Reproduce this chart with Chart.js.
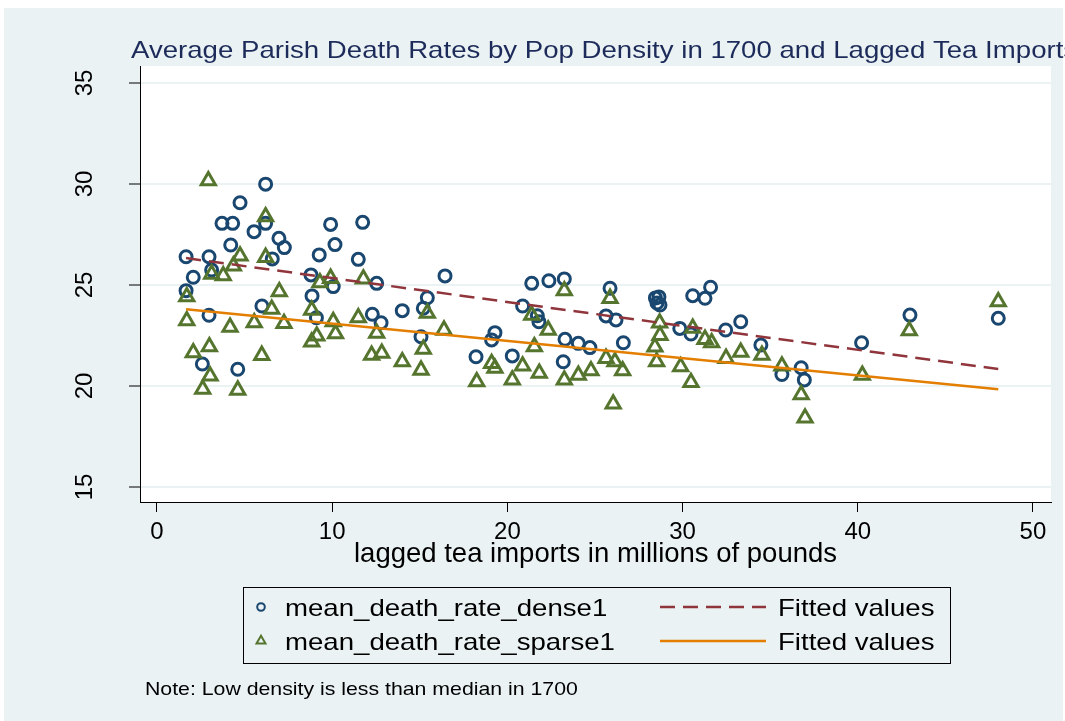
<!DOCTYPE html>
<html>
<head>
<meta charset="utf-8">
<script src="https://cdn.jsdelivr.net/npm/chart.js@4.4.0/dist/chart.umd.min.js"></script>
<style>
  html, body { margin: 0; padding: 0; background: #fff; }
  #wrap { width: 1065px; height: 721px; }
</style>
</head>
<body>
<div id="wrap"><canvas id="chart" width="1065" height="721"></canvas></div>
<script>
// values
const denseX = [1.66,1.66,2.07,2.97,2.97,2.59,3.12,3.71,4.32,4.21,4.74,4.61,5.54,6.20,5.99,6.20,6.96,7.27,6.58,8.79,
  8.85,9.26,9.91,10.16,10.06,9.10,11.49,11.74,12.54,12.29,12.79,14.00,15.07,15.43,15.20,16.44,18.21,19.10,19.29,20.28,
  20.87,21.39,21.71,21.80,22.37,23.25,23.29,23.19,24.05,24.71,25.86,25.63,26.20,26.62,28.45,28.65,28.54,28.71,29.84,30.48,
  30.58,31.28,31.60,32.46,33.32,34.47,35.67,36.77,36.95,40.22,42.98,48.02];
const denseY = [26.40,24.72,25.38,26.40,23.50,21.09,25.74,28.05,28.05,26.98,29.07,20.83,27.64,29.99,23.96,28.05,27.31,26.85,26.29,25.50,
  24.46,26.49,28.00,27.00,24.92,23.38,26.27,28.10,25.08,23.55,23.13,23.73,22.44,24.37,23.85,25.45,21.45,22.28,22.64,21.49,
  23.96,25.08,23.48,23.18,25.21,25.30,22.31,21.20,22.11,21.90,24.84,23.47,23.27,22.14,24.36,24.41,24.11,24.01,22.85,22.57,
  24.47,24.34,24.89,22.77,23.18,22.03,20.57,20.90,20.30,22.14,23.51,23.35];

const sparseX = [2.93,6.20,4.74,6.20,4.36,3.12,3.78,6.98,1.70,9.30,9.91,6.55,8.83,1.70,4.17,5.55,7.25,10.06,9.12,8.83,
  10.19,2.07,2.99,5.98,3.03,2.61,4.61,11.78,11.49,15.43,12.54,16.38,12.25,12.83,15.20,14.00,15.07,18.25,19.10,19.29,
  23.25,25.86,21.39,22.33,21.54,20.87,21.82,20.28,23.25,24.05,24.77,25.63,26.14,26.58,26.04,28.69,28.71,28.42,28.52,29.89,
  30.48,30.58,31.28,31.66,32.48,33.32,34.53,35.67,36.77,36.99,40.26,42.94,48.02];
const sparseY = [30.16,28.38,26.44,26.37,25.94,25.54,25.46,24.67,24.42,25.11,25.33,23.80,23.76,23.23,22.91,23.13,23.10,23.19,22.48,22.18,
  22.59,21.65,21.95,21.52,20.50,19.84,19.80,25.30,23.38,23.60,22.61,22.77,21.53,21.62,21.82,21.20,20.79,20.21,21.12,20.88,
  24.72,24.34,23.51,22.77,21.95,20.99,20.63,20.30,20.30,20.54,20.76,21.37,21.20,20.76,19.11,23.12,22.51,21.93,21.20,20.96,
  20.18,22.86,22.31,22.14,21.37,21.67,21.53,20.99,19.57,18.42,20.54,22.74,24.17];

// fitted lines, ends at min and max x
const fitX = [1.66, 48.02];
const fitDenseY = [26.33, 20.84];
const fitSparseY = [23.80, 19.84];

const xTicks = [0, 10, 20, 30, 40, 50];
const yTicks = [15, 20, 25, 30, 35];

const titleText = 'Average Parish Death Rates by Pop Density in 1700 and Lagged Tea Imports';
const xTitle = 'lagged tea imports in millions of pounds';
const noteText = 'Note: Low density is less than median in 1700';

const FONT = '"Liberation Sans", Arial, sans-serif';
const BG = '#eaf2f3';
const NAVY = '#1a476f', MAROON = '#90353b', GREEN = '#55752f', ORANGE = '#e37e00';

const pts = (xs, ys) => xs.map((x, i) => ({ x: x, y: ys[i] }));

// stata text looks a bit wide, stretch it
function wideText(ctx, text, x, y, size, color) {
  ctx.save();
  ctx.font = size + 'px ' + FONT;
  ctx.fillStyle = color;
  ctx.textBaseline = 'alphabetic';
  ctx.textAlign = 'left';
  ctx.translate(x, y);
  ctx.scale(1.15, 1);
  ctx.fillText(text, 0, 0);
  ctx.restore();
}

const stataLook = {
  id: 'stataLook',
  beforeDraw(chart) {
    const { ctx, chartArea: a } = chart;
    ctx.save();
    ctx.fillStyle = '#fff';
    ctx.fillRect(0, 0, chart.width, chart.height);
    ctx.fillStyle = BG;
    ctx.fillRect(4, 8, chart.width - 6, chart.height - 8);
    ctx.fillStyle = '#fff';
    ctx.fillRect(a.left, a.top, a.right - a.left, a.bottom - a.top);
    ctx.restore();
  },
  afterDraw(chart) {
    const ctx = chart.ctx;
    const ds = chart.data.datasets;
    wideText(ctx, titleText, 131, 58, 24, '#1c2b5a');

    // legend box
    ctx.save();
    ctx.strokeStyle = '#000';
    ctx.lineWidth = 1;
    ctx.strokeRect(243.5, 587.5, 707, 76);
    ctx.restore();

    const rows = [
      { mark: ds[0], line: ds[2], y: 607, r: 3.8 },
      { mark: ds[1], line: ds[3], y: 641, r: 5.2 }
    ];
    rows.forEach(row => {
      ctx.save();
      ctx.strokeStyle = row.mark.borderColor;
      ctx.fillStyle = 'rgba(0,0,0,0)';
      ctx.lineWidth = 2;
      Chart.helpers.drawPoint(ctx, { pointStyle: row.mark.pointStyle, radius: row.r, rotation: 0, borderWidth: 2 }, 261, row.y);
      ctx.restore();
      wideText(ctx, row.mark.label, 285, row.y + 9, 24, '#000');

      ctx.save();
      ctx.strokeStyle = row.line.borderColor;
      ctx.lineWidth = row.line.borderWidth;
      ctx.setLineDash(row.line.borderDash || []);
      ctx.beginPath();
      ctx.moveTo(660, row.y);
      ctx.lineTo(766, row.y);
      ctx.stroke();
      ctx.restore();
      wideText(ctx, row.line.label, 778, row.y + 9, 24, '#000');
    });

    wideText(ctx, noteText, 145, 695, 18.5, '#000');
  }
};

new Chart(document.getElementById('chart'), {
  type: 'scatter',
  data: {
    datasets: [
      { label: 'mean_death_rate_dense1', data: pts(denseX, denseY), pointStyle: 'circle',
        pointRadius: 6, pointBorderWidth: 3, borderColor: NAVY, backgroundColor: 'rgba(0,0,0,0)', order: 3 },
      { label: 'mean_death_rate_sparse1', data: pts(sparseX, sparseY), pointStyle: 'triangle',
        pointRadius: 8.2, pointBorderWidth: 3, borderColor: GREEN, backgroundColor: 'rgba(0,0,0,0)', order: 2 },
      { label: 'Fitted values', data: pts(fitX, fitDenseY), showLine: true, pointRadius: 0,
        borderColor: MAROON, borderWidth: 2.5, borderDash: [15, 8], order: 1 },
      { label: 'Fitted values', data: pts(fitX, fitSparseY), showLine: true, pointRadius: 0,
        borderColor: ORANGE, borderWidth: 2.5, order: 0 }
    ]
  },
  options: {
    responsive: false,
    animation: false,
    devicePixelRatio: 1,
    layout: { padding: { left: 0, top: 66, right: 14, bottom: 150 } },
    plugins: { legend: { display: false }, tooltip: { enabled: false } },
    scales: {
      x: {
        type: 'linear', min: -0.97, max: 51.03,
        afterBuildTicks: s => { s.ticks = xTicks.map(v => ({ value: v })); },
        afterFit: s => { s.height = 69; },
        grid: { drawOnChartArea: false, drawTicks: true, tickLength: 10, tickColor: '#000', tickWidth: 1 },
        border: { display: true, color: '#000', width: 1 },
        ticks: { font: { family: FONT, size: 24 }, color: '#000', padding: 6, maxRotation: 0, autoSkip: false },
        title: { display: true, text: xTitle, font: { family: FONT, size: 27.5 }, color: '#000', padding: 0 }
      },
      y: {
        type: 'linear', min: 14.257, max: 35.84,
        afterBuildTicks: s => { s.ticks = yTicks.map(v => ({ value: v })); },
        afterFit: s => { s.width = 140; },
        grid: { color: BG, lineWidth: 2, drawTicks: true, tickLength: 11, tickColor: '#000', tickWidth: 1 },
        border: { display: true, color: '#000', width: 1 },
        ticks: { font: { family: FONT, size: 24 }, color: '#000', padding: 30,
          minRotation: 90, maxRotation: 90, crossAlign: 'center', autoSkip: false }
      }
    }
  },
  plugins: [stataLook]
});
</script>
</body>
</html>
